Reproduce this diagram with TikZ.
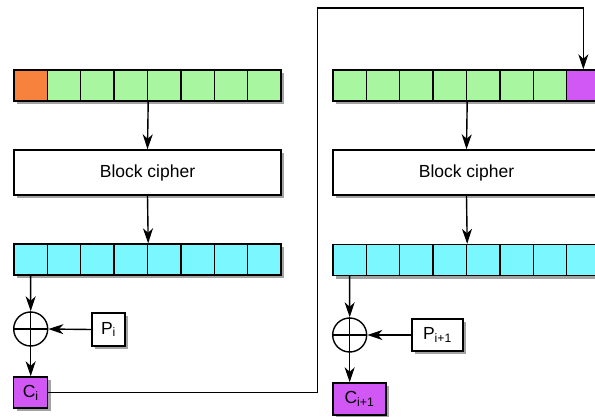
\documentclass[tikz,border=0pt]{standalone}
\usepackage{fontspec}
\setmainfont{Liberation Sans}
\usetikzlibrary{arrows.meta,shadows}
\definecolor{cOrange}{RGB}{247,130,62}
\definecolor{cGreen}{RGB}{168,247,160}
\definecolor{cCyan}{RGB}{122,247,255}
\definecolor{cPurple}{RGB}{210,88,245}
\tikzset{bigtip/.tip={Stealth[length=15pt,width=10pt,inset=4.5pt]}}
\begin{document}
\begin{tikzpicture}[x=1pt,y=-1pt,
  shad/.style={drop shadow={shadow xshift=3pt,shadow yshift=-3pt,fill=black!45,opacity=0.8}},
  cell/.style={draw,line width=1.4pt,minimum width=33.375pt,minimum height=31pt,inner sep=0pt,shad},
  box/.style={draw,line width=1.4pt,fill=white,inner sep=0pt,shad,font=\fontsize{17.5}{20}\selectfont},
  xorc/.style={draw,line width=1.4pt,circle,minimum size=34pt,inner sep=0pt,fill=white},
  conn/.style={line width=1.4pt,-bigtip},
  wire/.style={line width=1.4pt}]
\useasboundingbox (0,0) rectangle (595,416);
% left top register
\foreach \k in {1,...,8}{
  \ifnum\k=1 \def\cc{cOrange}\else\def\cc{cGreen}\fi
  \node[cell,fill=\cc] (L\k) at ({14+33.375*(\k-0.5)},85.5) {};
}
\node[box,minimum width=267pt,minimum height=45pt] (BC1) at (147.5,172.5) {Block cipher};
\foreach \k in {1,...,8}{
  \node[cell,fill=cCyan] (O\k) at ({14+33.375*(\k-0.5)},259.5) {};
}
\node[xorc] (X1) at (30.7,329) {};
\draw[wire] (X1.north) -- (X1.south) (X1.west) -- (X1.east);
\node[box,minimum width=33pt,minimum height=33pt] (P1) at (108.5,329.5) {P\textsubscript{i}};
\node[box,fill=cPurple,minimum width=34pt,minimum height=31pt] (C1) at (30.7,392.5) {C\textsubscript{i}};

% right top register
\foreach \k in {1,...,8}{
  \ifnum\k=8 \def\cc{cPurple}\else\def\cc{cGreen}\fi
  \node[cell,fill=\cc] (R\k) at ({333+33.375*(\k-0.5)},85.5) {};
}
\node[box,minimum width=267pt,minimum height=45pt] (BC2) at (466.5,172.5) {Block cipher};
\foreach \k in {1,...,8}{
  \node[cell,fill=cCyan] (Q\k) at ({333+33.375*(\k-0.5)},260) {};
}
\node[xorc] (X2) at (349.69,335) {};
\draw[wire] (X2.north) -- (X2.south) (X2.west) -- (X2.east);
\node[box,minimum width=51pt,minimum height=32pt] (P2) at (437.5,335) {P\textsubscript{i+1}};
\node[box,fill=cPurple,minimum width=53pt,minimum height=32pt] (C2) at (359.5,399) {C\textsubscript{i+1}};

% connectors left
\draw[conn] (L4.south east) -- (BC1.north);
\draw[conn] (BC1.south) -- (O4.north east);
\draw[conn] (O1.south) -- (X1.north);
\draw[conn] (P1.west) -- (X1.east);
\draw[conn] (X1.south) -- (C1.north);
% feedback
\coordinate (b1) at (317.5,392.5);
\coordinate (b2) at (317.5,8);
\draw[conn] (C1.east) -- (b1) -- (b2) -| (R8.north);
% connectors right
\draw[conn] (R4.south east) -- (BC2.north);
\draw[conn] (BC2.south) -- (Q4.north east);
\draw[conn] (Q1.south) -- (X2.north);
\draw[conn] (P2.west) -- (X2.east);
\draw[conn] (X2.south) -- (X2.south |- C2.north);
\end{tikzpicture}
\end{document}
